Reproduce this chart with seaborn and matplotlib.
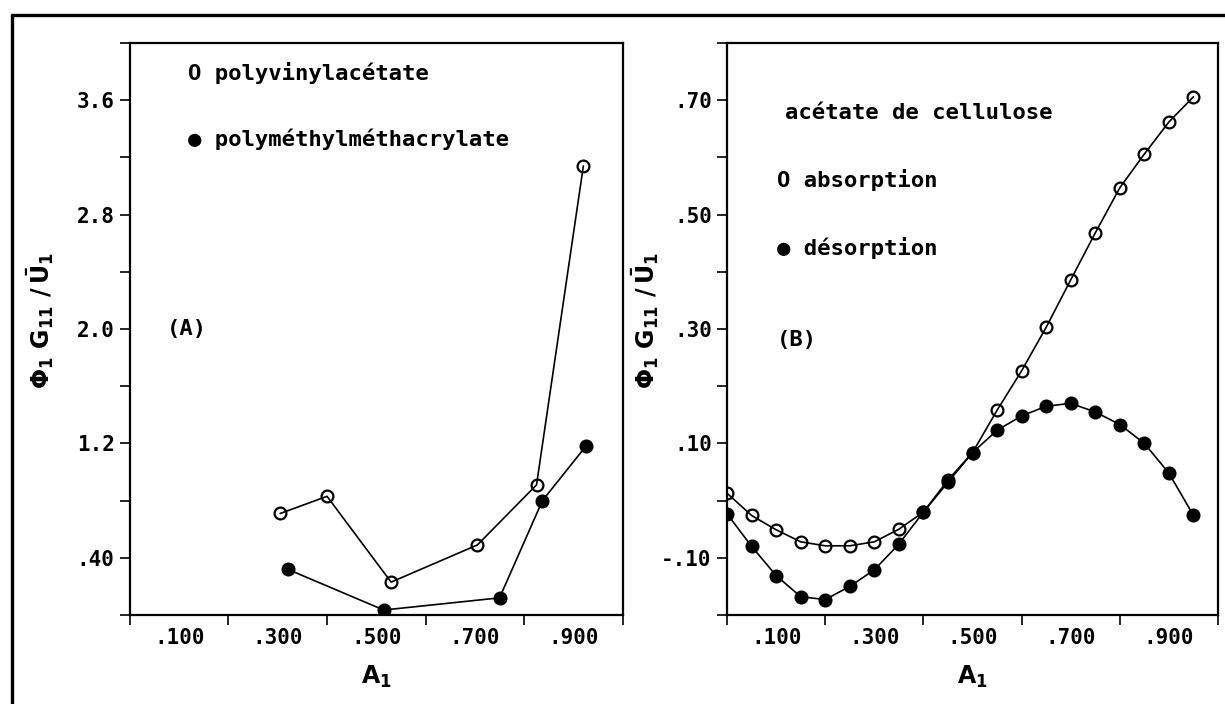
import matplotlib
matplotlib.use('Agg')
import matplotlib.pyplot as plt
import seaborn as sns
from matplotlib.lines import Line2D

# (A) polyvinylacétate / polyméthylméthacrylate
a1_pva = [0.305, 0.40, 0.53, 0.705, 0.825, 0.92]
phi_pva = [0.71, 0.83, 0.23, 0.49, 0.91, 3.14]
a1_pmma = [0.32, 0.515, 0.75, 0.837, 0.925]
phi_pmma = [0.32, 0.035, 0.12, 0.80, 1.18]

# (B) acétate de cellulose, absorption / désorption
a1_cell = [0.00, 0.05, 0.10, 0.15, 0.20, 0.25, 0.30, 0.35, 0.40, 0.45,
           0.50, 0.55, 0.60, 0.65, 0.70, 0.75, 0.80, 0.85, 0.90, 0.95]
phi_abs = [0.013, -0.026, -0.051, -0.072, -0.079, -0.079, -0.072, -0.050, -0.020, 0.036,
           0.084, 0.158, 0.227, 0.303, 0.386, 0.468, 0.547, 0.606, 0.662, 0.706]
phi_des = [-0.023, -0.080, -0.131, -0.168, -0.173, -0.150, -0.121, -0.076, -0.020, 0.032,
           0.084, 0.123, 0.148, 0.165, 0.170, 0.155, 0.133, 0.100, 0.048, -0.026]

# tick labels
x_lab_pos = [0.1, 0.3, 0.5, 0.7, 0.9]
x_lab = ['.100', '.300', '.500', '.700', '.900']
x_tick_pos = [0.0, 0.2, 0.4, 0.6, 0.8, 1.0]
ya_lab_pos = [0.4, 1.2, 2.0, 2.8, 3.6]
ya_lab = ['.40', '1.2', '2.0', '2.8', '3.6']
ya_minor = [0.0, 0.8, 1.6, 2.4, 3.2, 4.0]
yb_lab_pos = [-0.1, 0.1, 0.3, 0.5, 0.7]
yb_lab = ['-.10', '.10', '.30', '.50', '.70']
yb_minor = [-0.2, 0.0, 0.2, 0.4, 0.6, 0.8]

sns.set_style('ticks')
plt.rcParams['font.family'] = ['DejaVu Sans Mono', 'DejaVu Sans']
plt.rcParams['font.weight'] = 'bold'
plt.rcParams['mathtext.fontset'] = 'dejavusans'
plt.rcParams['text.color'] = 'black'
plt.rcParams['axes.labelcolor'] = 'black'
plt.rcParams['axes.edgecolor'] = 'black'
plt.rcParams['xtick.color'] = 'black'
plt.rcParams['ytick.color'] = 'black'

fig = plt.figure(figsize=(12.25, 7.04), dpi=100)
ax1 = fig.add_axes([0.106, 0.1264, 0.4024, 0.8125])
ax2 = fig.add_axes([0.5935, 0.1264, 0.4008, 0.8125])

fs_tick = 15
fs_txt = 16
ylab = r'$\mathbf{\Phi_1\ G_{11}\ /\,\bar{U}_1}$'
xlab = r'$\mathbf{A_1}$'

def style_axes(ax, ypos, ylabs, yminor, ylim, ylab_x):
    ax.set_xlim(0, 1.0)
    ax.set_ylim(*ylim)
    ax.set_xticks(x_lab_pos, x_lab)
    ax.set_xticks(x_tick_pos, minor=True)
    ax.set_yticks(ypos, ylabs)
    ax.set_yticks(yminor, minor=True)
    ax.tick_params(axis='x', which='major', length=0, pad=9, labelsize=fs_tick)
    ax.tick_params(axis='x', which='minor', length=7, width=1.2, direction='out')
    ax.tick_params(axis='y', which='both', length=7, width=1.2, direction='out',
                   labelsize=fs_tick, pad=4)
    for s in ax.spines.values():
        s.set_linewidth(1.6)
        s.set_visible(True)
    ax.set_xlabel(xlab, fontsize=fs_txt + 1)
    ax.xaxis.set_label_coords(0.5, -0.085)
    ax.set_ylabel(ylab, fontsize=fs_txt + 1)
    ax.yaxis.set_label_coords(ylab_x, 0.515)

line_kw = dict(color='black', linewidth=1.2, markersize=8.5, markeredgewidth=1.6)

sns.lineplot(x=a1_pva, y=phi_pva, marker='o', markerfacecolor='none',
             markeredgecolor='black', ax=ax1, **line_kw)
sns.lineplot(x=a1_pmma, y=phi_pmma, marker='o', markerfacecolor='black',
             markeredgecolor='black', ax=ax1, **line_kw)
style_axes(ax1, ya_lab_pos, ya_lab, ya_minor, (0, 4.0), -0.15)
ax1.text(0.118, 3.79, 'O polyvinylacétate', fontsize=fs_txt, fontweight='bold', va='center')
ax1.text(0.118, 3.33, '● polyméthylméthacrylate', fontsize=fs_txt, fontweight='bold', va='center')
ax1.text(0.075, 2.0, '(A)', fontsize=fs_txt, fontweight='bold', va='center')

sns.lineplot(x=a1_cell, y=phi_abs, marker='o', markerfacecolor='none',
             markeredgecolor='black', ax=ax2, **line_kw)
sns.lineplot(x=a1_cell, y=phi_des, marker='o', markerfacecolor='black',
             markeredgecolor='black', ax=ax2, **line_kw)
style_axes(ax2, yb_lab_pos, yb_lab, yb_minor, (-0.2, 0.8), -0.134)
ax2.text(0.118, 0.678, 'acétate de cellulose', fontsize=fs_txt, fontweight='bold', va='center')
ax2.text(0.102, 0.560, 'O absorption', fontsize=fs_txt, fontweight='bold', va='center')
ax2.text(0.102, 0.442, '● désorption', fontsize=fs_txt, fontweight='bold', va='center')
ax2.text(0.102, 0.281, '(B)', fontsize=fs_txt, fontweight='bold', va='center')

# page frame (left and top edges)
fig.add_artist(Line2D([0.0098, 0.0098], [0.0, 0.9787], color='black', linewidth=2.4))
fig.add_artist(Line2D([0.0098, 1.0], [0.9787, 0.9787], color='black', linewidth=2.4))

fig.savefig('out.png', dpi=100)
